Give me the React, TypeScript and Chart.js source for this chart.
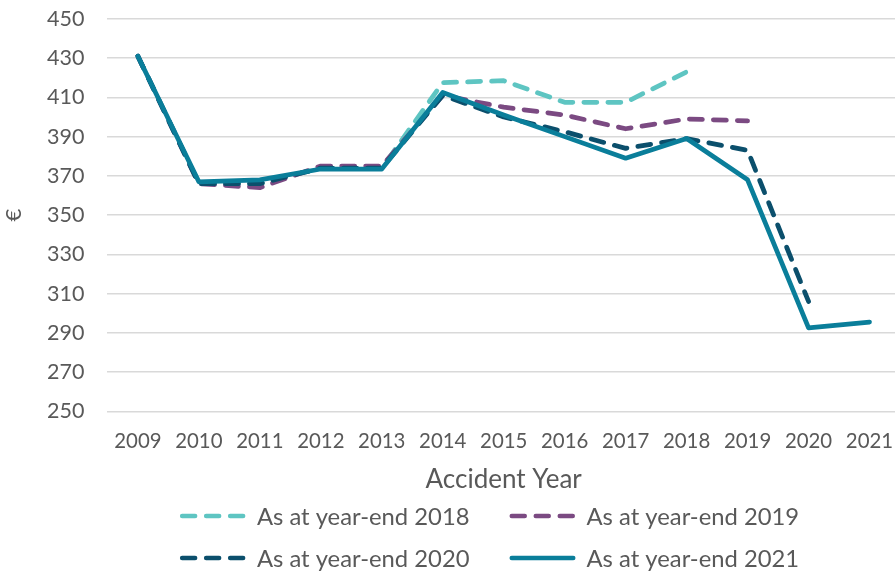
import React, { useEffect, useRef } from "react";
import { Chart, registerables } from "chart.js";

Chart.register(...registerables);

const years = ["2009", "2010", "2011", "2012", "2013", "2014", "2015", "2016", "2017", "2018", "2019", "2020", "2021"];
const ye2018 = [431, 366, 366, 374, 374, 417.5, 418.5, 407.5, 407.5, 423, null, null, null];
const ye2019 = [431, 366, 364, 375, 375, 411, 405, 401, 394, 399, 398, null, null];
const ye2020 = [431, 366, 366, 374, 374, 411, 400, 392.5, 384, 389, 383, 306, null];
const ye2021 = [431, 367, 368, 373.5, 373.5, 412.5, 401, 390, 379, 389, 368, 292.5, 295.5];
const seriesNames = ["As at year-end 2018", "As at year-end 2019", "As at year-end 2020", "As at year-end 2021"];
const colors = ["#5EC5C2", "#7B4A82", "#0B4F6C", "#0A7E9A"];
const dashed = [true, true, true, false];
const yMin = 250;
const yMax = 450;
const yStep = 20;

const TEXT = "#595959";
const FONT = "Lato";

const legendPlugin = {
  id: "twoColumnLegend",
  afterDraw(chart: any) {
    const ctx = chart.ctx as CanvasRenderingContext2D;
    const fontSize = 23.8;
    const sample = 66;
    const gapText = 11;
    const colGap = 40;
    const rowY = [516, 558];
    const centerX = 489.5;
    ctx.save();
    ctx.font = `${fontSize}px ${FONT}`;
    const ds = chart.data.datasets;
    const widths = ds.map((d: any) => sample + gapText + ctx.measureText(d.label).width);
    const col0 = Math.max(widths[0], widths[2]);
    const rowWidth = col0 + colGap + Math.max(widths[1], widths[3]);
    const startX = centerX - rowWidth / 2;
    ds.forEach((d: any, i: number) => {
      const row = Math.floor(i / 2);
      const col = i % 2;
      const x = startX + (col === 0 ? 0 : col0 + colGap);
      const y = rowY[row];
      ctx.strokeStyle = d.borderColor;
      ctx.lineWidth = 4.5;
      ctx.lineCap = "round";
      ctx.setLineDash(dashed[i] ? [13, 11] : []);
      ctx.beginPath();
      ctx.moveTo(x + 2.25, y);
      ctx.lineTo(x + sample - 2.25, y);
      ctx.stroke();
      ctx.setLineDash([]);
      ctx.fillStyle = TEXT;
      ctx.textAlign = "left";
      ctx.textBaseline = "middle";
      ctx.fillText(d.label, x + sample + gapText, y + 1);
    });
    ctx.restore();
  },
};

export default function App() {
  const ref = useRef<HTMLCanvasElement>(null);
  useEffect(() => {
    if (!ref.current) return;
    const values = [ye2018, ye2019, ye2020, ye2021];
    const chart = new Chart(ref.current, {
      type: "line",
      data: {
        labels: years,
        datasets: values.map((v, i) => ({
          label: seriesNames[i],
          data: v,
          borderColor: colors[i],
          backgroundColor: colors[i],
          borderWidth: 4.75,
          borderDash: dashed[i] ? [13, 11] : [],
          borderCapStyle: "round" as const,
          borderJoinStyle: "round" as const,
          pointRadius: 0,
          pointHoverRadius: 0,
          tension: 0,
          spanGaps: false,
          order: 3 - i,
        })),
      },
      plugins: [legendPlugin],
      options: {
        animation: false,
        responsive: true,
        maintainAspectRatio: false,
        layout: { padding: { top: 0, right: 0, left: 1, bottom: 77 } },
        plugins: {
          tooltip: { enabled: false },
          legend: { display: false },
        },
        scales: {
          x: {
            offset: true,
            grid: { display: false, drawTicks: true, tickLength: 15, tickColor: "rgba(0,0,0,0)" },
            border: { display: false },
            ticks: { color: TEXT, font: { family: FONT, size: 20.4 }, padding: 3, maxRotation: 0, autoSkip: false },
            title: { display: true, text: "Accident Year", color: TEXT, font: { family: FONT, size: 26 }, padding: { top: 7, bottom: 0 } },
          },
          y: {
            min: yMin,
            max: yMax,
            ticks: { stepSize: yStep, color: TEXT, font: { family: FONT, size: 21.5 }, padding: 6 },
            grid: { color: "#D9D9D9", lineWidth: 1.5, drawTicks: true, tickLength: 17, tickColor: "rgba(0,0,0,0)" },
            border: { display: false },
            title: { display: true, text: "€", color: TEXT, font: { family: FONT, size: 22 }, padding: { top: 0, bottom: 13.6 } },
          },
        },
      },
    });
    return () => chart.destroy();
  }, []);
  return (
    <div style={{ position: "fixed", left: 0, top: 0, width: 895, height: 572, overflow: "hidden", background: "#fff" }}>
      <div style={{ position: "absolute", left: 0, top: 0, width: 900, height: 572 }}>
        <canvas ref={ref} />
      </div>
    </div>
  );
}
